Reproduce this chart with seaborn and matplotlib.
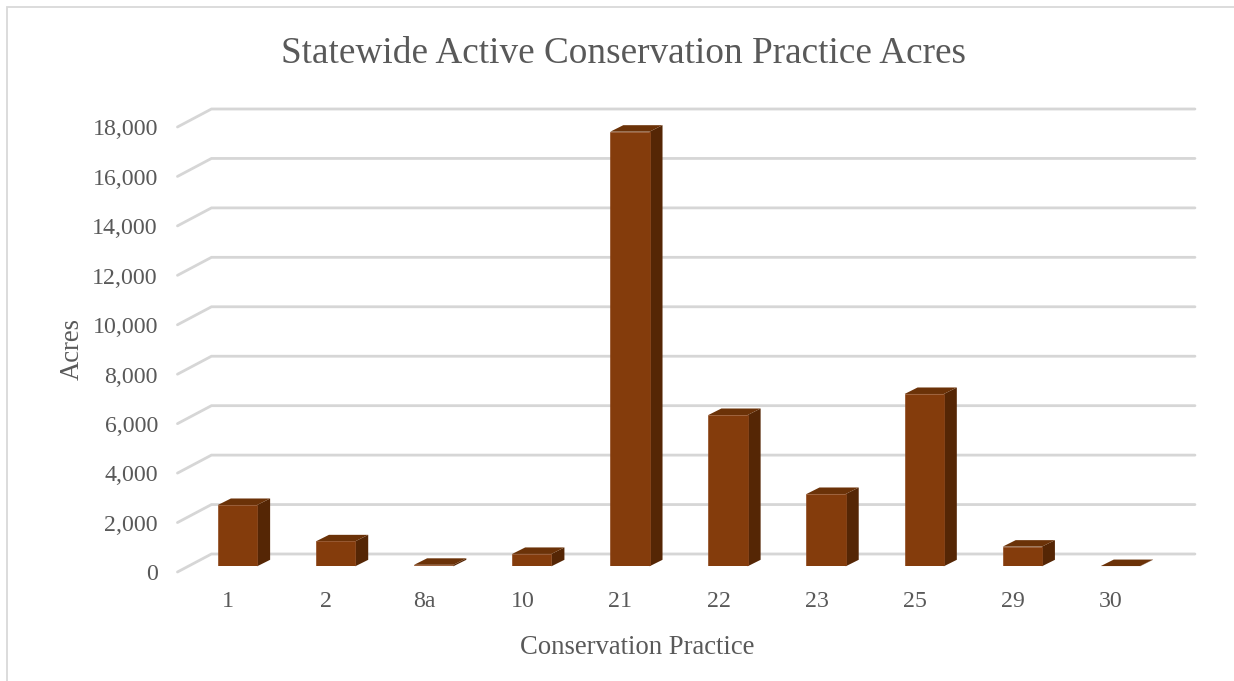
"""
Statewide Active Conservation Practice Acres: столбцы с псевдо-3D гранями.
"""
import matplotlib
matplotlib.use("Agg")
import matplotlib.pyplot as plt
import seaborn as sns
from matplotlib.patches import Polygon, Rectangle
from matplotlib.ticker import StrMethodFormatter
from matplotlib.transforms import Affine2D

practices = ["1", "2", "8a", "10", "21", "22", "23", "25", "29", "30"]
acres = [2480, 1010, 60, 500, 17580, 6120, 2925, 6970, 795, 10]
y_ticks = [0, 2000, 4000, 6000, 8000, 10000, 12000, 14000, 16000, 18000]

W, H = 1234, 681
FACE, SIDE, TOP = "#843C0C", "#552605", "#6B3208"
GRID, TEXT = "#D6D6D6", "#595959"

sns.set_theme(style="white")
plt.rcParams["font.family"] = ["Liberation Serif", "DejaVu Serif"]

fig = plt.figure(figsize=(W / 100, H / 100), dpi=100, facecolor="white")
# плоскость передних граней столбцов, в пикселях картинки
left, right, base, top = 188.45, 1169.45, 566.3, 121.3
ax = fig.add_axes([left / W, 1 - base / H, (right - left) / W, (base - top) / H])

sns.barplot(x=practices, y=acres, color=FACE, saturation=1, width=0.4, ax=ax,
            edgecolor="#8F4A20", linewidth=0.5, zorder=4)
ax.set_xlim(-0.5, 9.5)
ax.set_ylim(0, 18000)
sns.despine(ax=ax, left=True, bottom=True)
ax.patch.set_alpha(0)

# пересчёт пикселей в единицы данных
px_x = 1 / ((right - left) / 10)
px_y = 18000 / (base - top)

# линии сетки идут ломаной: "пол" слева и задняя стенка
for v in y_ticks:
    xs = [-0.5 - 11 * px_x, -0.5 + 23 * px_x, 9.5 + 25.5 * px_x]
    ys = [v - 5.7 * px_y, v + 12.3 * px_y, v + 12.3 * px_y]
    ax.plot(xs, ys, color=GRID, lw=2.0, clip_on=False, zorder=1,
            solid_capstyle="round", solid_joinstyle="miter")

# боковая и верхняя грани
dx, dy = 13 * px_x, 6.5 * px_y
for bar in ax.patches:
    x0, w, h = bar.get_x(), bar.get_width(), bar.get_height()
    x1 = x0 + w
    ax.add_patch(Polygon([(x1, 0), (x1 + dx, dy), (x1 + dx, h + dy), (x1, h)],
                         fc=SIDE, ec="none", clip_on=False, zorder=3))
    ax.add_patch(Polygon([(x0, h), (x1, h), (x1 + dx, h + dy), (x0 + dx, h + dy)],
                         fc=TOP, ec="none", clip_on=False, zorder=3))

ax.set_yticks(y_ticks)
ax.yaxis.set_major_formatter(StrMethodFormatter("{x:,.0f}"))
ax.tick_params(axis="y", length=0, pad=22, labelsize=17.2, labelcolor=TEXT)
ax.tick_params(axis="x", length=0, pad=18, labelsize=17.2, labelcolor=TEXT)
for lab in ax.get_yticklabels():
    lab.set_transform(lab.get_transform() + Affine2D().translate(0, -6))
for lab in ax.get_xticklabels():
    lab.set_transform(lab.get_transform() + Affine2D().translate(-9.5, 0))

fig.text(623.5 / W, 1 - 54 / H, "Statewide Active Conservation Practice Acres",
         ha="center", va="center", fontsize=26.8, color=TEXT)
ax.set_xlabel("")
ax.set_ylabel("")
fig.text(637 / W, 1 - 647 / H, "Conservation Practice", ha="center", va="center",
         fontsize=19.15, color=TEXT)
fig.text(72 / W, 1 - 349 / H, "Acres", ha="center", va="center", rotation=90,
         fontsize=19.15, color=TEXT)

# рамка диаграммы: правая и нижняя стороны за краем картинки
fig.add_artist(Rectangle((7 / W, -0.05), 1.1, 1.05 - 7.5 / H,
                         transform=fig.transFigure, fc="none", ec="#D9D9D9", lw=1.3))

fig.savefig("out.png", dpi=100)
plt.close(fig)
